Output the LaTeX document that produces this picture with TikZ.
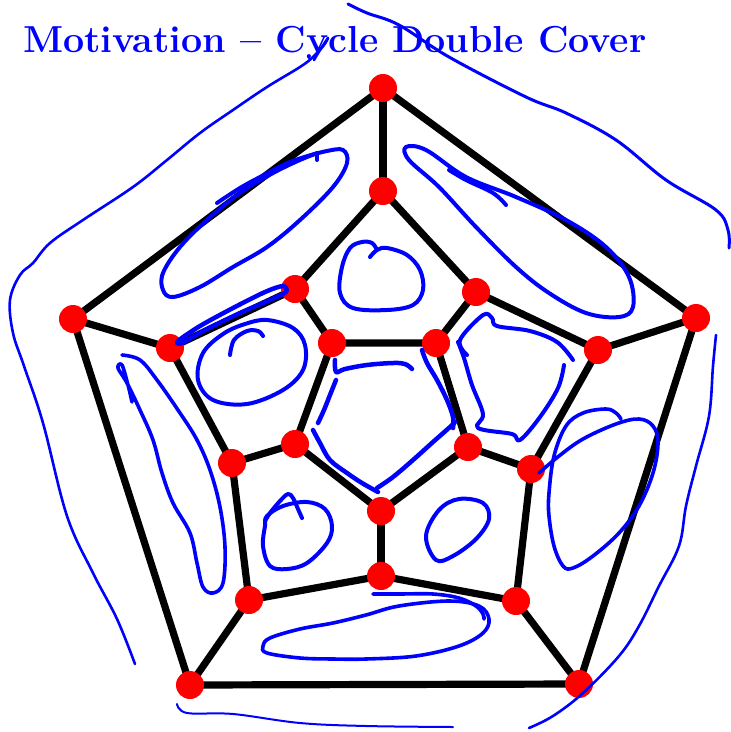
\documentclass[tikz,border=0pt]{standalone}
\usetikzlibrary{backgrounds}
\begin{document}
\begin{tikzpicture}[x=1pt,y=-1pt,
  vtx/.style={circle,fill=red,draw=none,minimum size=28pt,inner sep=0pt},
  edge/.style={line width=7.2pt,draw=black},
  pen/.style={draw=blue,line width=4pt,line cap=round,line join=round},
  thinpen/.style={draw=blue,line width=2.6pt,line cap=round,line join=round},
  ttl/.style={text=blue,font=\fontsize{37.6}{42}\selectfont\bfseries,anchor=base west,inner sep=0pt}]
\useasboundingbox (0,0) rectangle (731,732);
% title
\node[ttl] (title) at (23,52) {Motivation -- Cycle Double Cover};
% outer pentagon
\node[vtx] (o1) at (383,88) {};
\node[vtx] (o2) at (696,318) {};
\node[vtx] (o3) at (579,684) {};
\node[vtx] (o4) at (190,685) {};
\node[vtx] (o5) at (73,319) {};
% middle ring
\node[vtx] (m1) at (383,191) {};
\node[vtx] (m2) at (476,292) {};
\node[vtx] (m3) at (598,350) {};
\node[vtx] (m4) at (531,469) {};
\node[vtx] (m5) at (516,601) {};
\node[vtx] (m6) at (381,576) {};
\node[vtx] (m7) at (249,600) {};
\node[vtx] (m8) at (232,463) {};
\node[vtx] (m9) at (170,348) {};
\node[vtx] (m10) at (295,289) {};
% inner pentagon
\node[vtx] (i1) at (436,343) {};
\node[vtx] (i2) at (468,447) {};
\node[vtx] (i3) at (381,511) {};
\node[vtx] (i4) at (295,444) {};
\node[vtx] (i5) at (332,343) {};
\begin{pgfonlayer}{background}
\draw[edge] (o1.center) -- (o2.center) -- (o3.center) -- (o4.center) -- (o5.center) -- cycle;
\draw[edge] (o1.center) -- (m1.center);
\draw[edge] (o2.center) -- (m3.center);
\draw[edge] (o3.center) -- (m5.center);
\draw[edge] (o4.center) -- (m7.center);
\draw[edge] (o5.center) -- (m9.center);
\draw[edge] (m1.center) -- (m2.center) -- (m3.center) -- (m4.center) -- (m5.center) -- (m6.center) -- (m7.center) -- (m8.center) -- (m9.center) -- (m10.center) -- cycle;
\draw[edge] (m2.center) -- (i1.center);
\draw[edge] (m4.center) -- (i2.center);
\draw[edge] (m6.center) -- (i3.center);
\draw[edge] (m8.center) -- (i4.center);
\draw[edge] (m10.center) -- (i5.center);
\draw[edge] (i1.center) -- (i2.center) -- (i3.center) -- (i4.center) -- (i5.center) -- cycle;
\end{pgfonlayer}
% ---- blue hand-drawn strokes ----
% outer left
\draw[thinpen] plot[smooth,tension=0.6] coordinates {(135,664) (117,619) (93,573) (67,516) (43,423) (24,366) (13,333) (10,300) (20,275) (33,263) (50,243) (83,220) (133,187) (167,160) (200,133) (233,110) (267,87) (300,67) (313,57) (324,45) (328,38)};
\draw[thinpen] plot[smooth,tension=0.6] coordinates {(328,38) (320,50) (314,60)};
% top right outer
\draw[thinpen,line width=3pt] plot[smooth,tension=0.6] coordinates {(348,4) (367,13) (399,25) (449,57) (526,97) (566,113) (616,140) (666,180) (716,210) (728,230) (729,248)};
% right outer
\draw[thinpen] plot[smooth,tension=0.6] coordinates {(716,335) (713,366) (709,416) (696,466) (686,506) (679,546) (659,586) (639,626) (619,656) (583,693) (553,716) (529,728)};
% bottom
\draw[thinpen,line width=2pt] plot[smooth,tension=0.6] coordinates {(177,704) (187,713) (233,714) (300,723) (366,726) (453,727)};
% left elongated loop
\draw[pen,line width=3.6pt] plot[smooth,tension=0.6] coordinates {(122,355) (140,360) (157,380) (180,413) (197,440) (210,470) (220,507) (225,547) (223,583) (213,593) (203,587) (197,563) (190,533) (173,503) (162,473) (153,440) (140,410) (127,383) (118,368) (122,365) (128,385) (132,402)};
% top-left elongated loop
\draw[pen] plot[smooth cycle,tension=0.6] coordinates {(327,151) (343,150) (347,163) (333,187) (300,220) (267,247) (233,267) (200,287) (173,297) (163,290) (163,273) (180,247) (207,220) (240,193) (273,173) (307,157)};
\draw[pen] plot[smooth,tension=0.6] coordinates {(217,203) (240,188) (262,176) (290,162) (318,153)};
\draw[pen] (317,153) -- (317,160);
% top-right elongated loop
\draw[pen] plot[smooth cycle,tension=0.6] coordinates {(406,147) (426,150) (466,177) (516,197) (566,220) (606,247) (629,277) (633,307) (619,317) (586,313) (549,293) (516,267) (476,227) (439,187) (409,160)};
\draw[pen] plot[smooth,tension=0.6] coordinates {(449,170) (466,180) (493,193) (506,205)};
% top centre face
\draw[pen] plot[smooth,tension=0.6] coordinates {(370,257) (377,250) (387,248) (407,255) (420,270) (423,290) (413,305) (387,310) (353,308) (340,293) (342,267) (350,248) (362,242) (372,243) (377,250)};
% left-upper face
\draw[pen] plot[smooth,tension=0.6] coordinates {(230,355) (234,340) (247,331) (258,331) (263,336)};
\draw[pen] plot[smooth cycle,tension=0.6] coordinates {(267,320) (293,328) (305,345) (303,370) (283,390) (247,404) (213,400) (198,380) (203,353) (223,334) (245,324)};
% lens along edge m9-m10
\draw[pen,line width=4.5pt] plot[smooth cycle,tension=0.5] coordinates {(178,341) (200,326) (233,308) (265,292) (283,286) (286,292) (270,300) (240,313) (205,330) (182,343)};
% inner pentagon
\draw[pen,line width=4.5pt] plot[smooth,tension=0.6] coordinates {(335,360) (336,372) (345,369) (367,365) (393,363) (405,364) (412,369)};
\draw[pen,line width=4.5pt] plot[smooth,tension=0.6] coordinates {(336,380) (330,395) (324,410) (318,423)};
\draw[pen,line width=4.5pt] plot[smooth,tension=0.6] coordinates {(313,430) (320,443) (330,460) (347,473) (362,483) (378,492)};
\draw[pen,line width=4.5pt] plot[smooth,tension=0.6] coordinates {(377,488) (393,477) (413,460) (433,442) (450,427) (455,422)};
\draw[pen,line width=4.5pt] plot[smooth,tension=0.6] coordinates {(422,350) (427,363) (437,380) (447,400) (453,417) (453,428)};
% right-upper face
\draw[pen] plot[smooth,tension=0.6] coordinates {(467,355) (460,340) (483,315) (492,318) (497,326) (530,331) (557,342) (573,360)};
\draw[pen] plot[smooth,tension=0.6] coordinates {(564,365) (558,388) (540,417) (520,440) (512,434) (478,428) (483,414) (472,385) (464,358) (458,342)};
% right face
\draw[pen,line width=3.6pt] plot[smooth,tension=0.6] coordinates {(539,473) (559,456) (583,439) (616,424) (639,419) (653,426) (658,443) (653,473) (639,506) (619,533) (593,556) (573,568) (563,566) (554,546) (549,516) (549,493) (554,456) (566,426) (583,413) (606,409) (616,413) (621,419)};
% bottom-left face
\draw[pen] plot[smooth,tension=0.6] coordinates {(265,521) (270,513) (280,501) (288,494) (293,498) (298,509) (302,518)};
\draw[pen] plot[smooth cycle,tension=0.6] coordinates {(267,516) (283,506) (307,502) (325,509) (332,526) (327,543) (307,563) (287,569) (270,566) (263,546) (265,526)};
% bottom-right face
\draw[pen] plot[smooth cycle,tension=0.6] coordinates {(436,560) (426,536) (439,510) (459,499) (483,503) (489,519) (476,539) (453,556)};
% bottom face
\draw[pen,line width=3.6pt] plot[smooth cycle,tension=0.6] coordinates {(263,646) (270,638) (300,629) (333,623) (366,615) (399,606) (449,601) (479,606) (489,619) (483,633) (459,646) (416,656) (366,659) (333,659) (300,658) (267,653)};
\draw[pen,line width=3.6pt] plot[smooth,tension=0.6] coordinates {(373,594) (399,594) (433,594) (459,598) (476,606) (483,614) (484,619)};
\end{tikzpicture}
\end{document}
